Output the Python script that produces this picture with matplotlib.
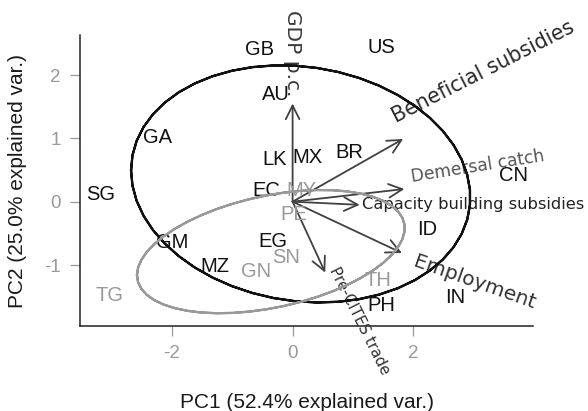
import numpy as np
import matplotlib
matplotlib.use("Agg")
import matplotlib.pyplot as plt

# PCA scores per country (PC1, PC2) and group membership
countries = ["GB", "US", "AU", "GA", "LK", "MX", "BR", "SG", "EC", "CN", "ID",
             "GM", "EG", "MZ", "PH", "IN", "MY", "PE", "SN", "GN", "TG", "TH"]
pc1 = [-0.54, 1.47, -0.27, -2.23, -0.30, 0.24, 0.94, -3.17, -0.44, 3.65, 2.23,
       -2.00, -0.32, -1.28, 1.47, 2.69, 0.14, 0.02, -0.10, -0.60, -3.03, 1.41]
pc2 = [2.40, 2.43, 1.69, 1.02, 0.67, 0.69, 0.78, 0.11, 0.18, 0.41, -0.44,
       -0.64, -0.63, -1.03, -1.64, -1.51, 0.18, -0.20, -0.88, -1.11, -1.48, -1.24]
groups = ["A"] * 16 + ["B"] * 6

# variable loadings (arrow tips)
variables = ["GDP p.c.", "Beneficial subsidies", "Demersal catch",
             "Capacity building subsidies", "Employment", "Pre-CITES trade"]
load_x = [0.0, 1.83, 1.85, 1.11, 1.81, 0.54]
load_y = [1.55, 0.99, 0.20, -0.05, -0.81, -1.12]

# where each variable name sits, its angle, size and colour
label_x = [0.0, 3.15, 3.06, 2.99, 3.02, 1.11]
label_y = [2.34, 2.05, 0.56, -0.04, -1.28, -1.88]
label_rot = [-90, 27, 9, 0, -19.5, -63.5]
label_size = [14.5, 14.8, 12.3, 11.7, 14.5, 10.9]
label_color = ["#3a3a3a", "#2a2a2a", "#555555", "#222222", "#333333", "#333333"]

group_color = {"A": "#111111", "B": "#999999"}

x_ticks = [-2, 0, 2]
y_ticks = [-1, 0, 1, 2]

plt.rcParams["font.family"] = ["Liberation Sans", "DejaVu Sans"]

fig = plt.figure(figsize=(5.88, 4.11), dpi=100)
ax = fig.add_axes([80 / 588, 85 / 411, 453 / 588, 291 / 411])
ax.set_xlim(-3.52, 3.98)
ax.set_ylim(-1.963, 2.632)

# loading arrows
for vx, vy in zip(load_x, load_y):
    ax.annotate("", xy=(vx, vy), xytext=(0, 0),
                arrowprops=dict(arrowstyle="->,head_length=0.7,head_width=0.35",
                                color="#404040", lw=1.3, mutation_scale=14,
                                shrinkA=0, shrinkB=0),
                zorder=2)

for name, tx, ty, rot, size, col in zip(variables, label_x, label_y, label_rot,
                                        label_size, label_color):
    ax.text(tx, ty, name, rotation=rot, rotation_mode="anchor", ha="center",
            va="center", fontsize=size, color=col, family="DejaVu Sans",
            zorder=3, clip_on=False)

# country labels
for name, x, y, g in zip(countries, pc1, pc2, groups):
    ax.text(x, y, name, ha="center", va="center", fontsize=14.5,
            color=group_color[g], zorder=3)

# 68% normal ellipses per group
theta = np.concatenate([np.linspace(-np.pi, np.pi, 50), np.linspace(np.pi, -np.pi, 50)])
circle = np.column_stack([np.cos(theta), np.sin(theta)])
ed = np.sqrt(-2 * np.log(1 - 0.68))
xs = np.array(pc1)
ys = np.array(pc2)
gs = np.array(groups)
for g in ["A", "B"]:
    pts = np.column_stack([xs[gs == g], ys[gs == g]])
    sigma = np.cov(pts, rowvar=False)
    chol = np.linalg.cholesky(sigma).T
    ell = circle @ chol * ed + pts.mean(axis=0)
    ax.plot(ell[:, 0], ell[:, 1], color=group_color[g], lw=1.6, zorder=4)

ax.spines["top"].set_visible(False)
ax.spines["right"].set_visible(False)
for side in ["left", "bottom"]:
    ax.spines[side].set_color("#222222")
    ax.spines[side].set_linewidth(1.1)

ax.set_xticks(x_ticks)
ax.set_yticks(y_ticks)
ax.set_xticklabels([str(t) for t in x_ticks])
ax.set_yticklabels([str(t) for t in y_ticks])
ax.tick_params(axis="both", direction="out", length=7, width=0.9, color="#999999",
               labelcolor="#999999", labelsize=13.5, pad=7)

ax.set_xlabel("PC1 (52.4% explained var.)", fontsize=15, color="#1a1a1a", labelpad=22)
ax.set_ylabel("PC2 (25.0% explained var.)", fontsize=15, color="#1a1a1a", labelpad=12)

fig.savefig("out.png", dpi=100)
